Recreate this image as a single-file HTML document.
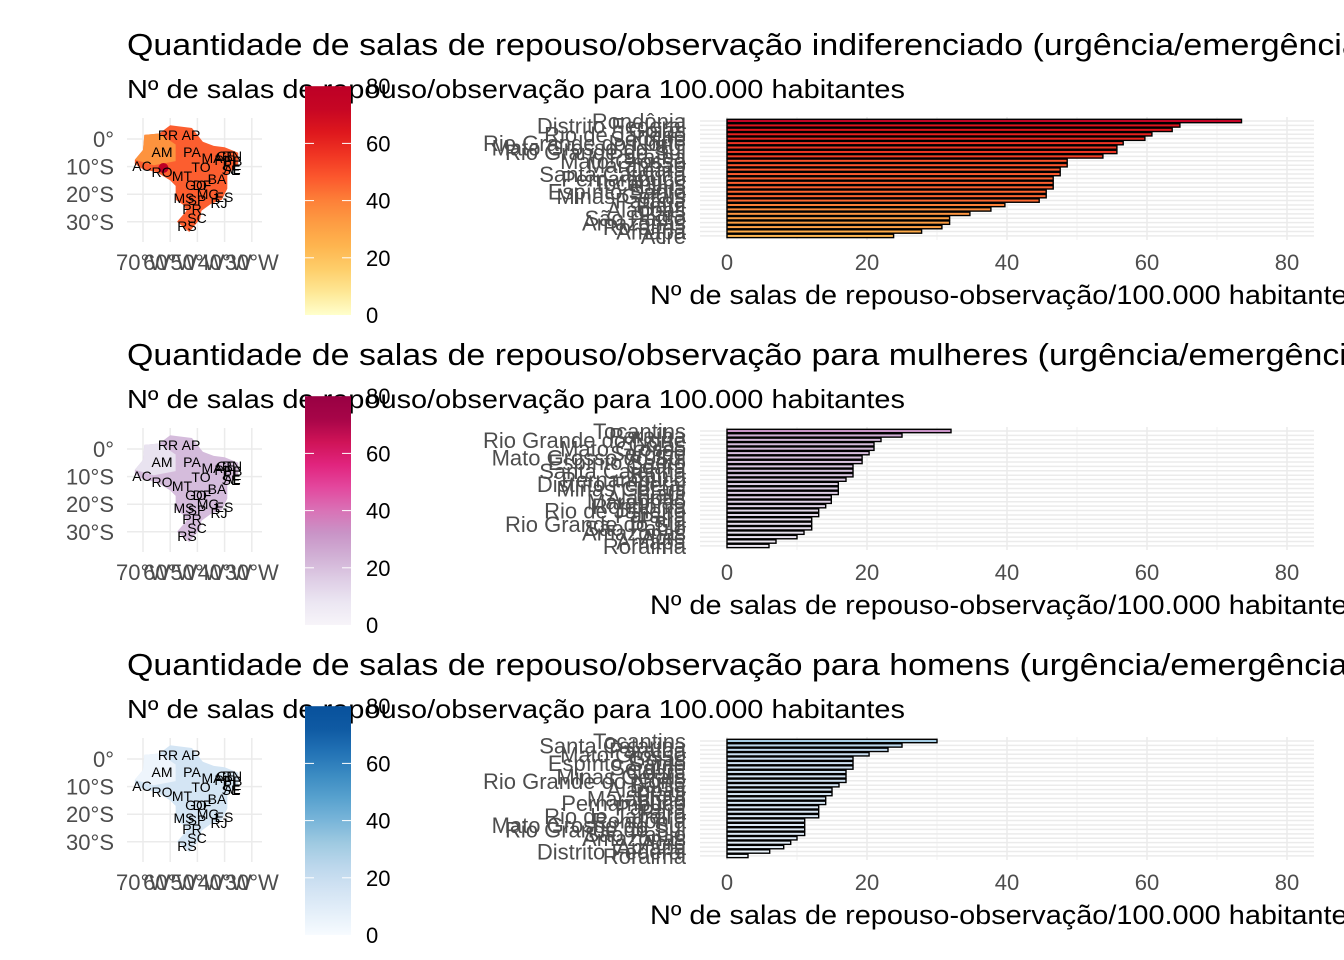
<!DOCTYPE html>
<html><head><meta charset="utf-8"><style>
body{margin:0;background:#fff;}
svg{display:block;font-family:"Liberation Sans",sans-serif;}
</style></head><body>
<svg id="c" width="1344" height="960" viewBox="0 0 1344 960" xmlns="http://www.w3.org/2000/svg"></svg>
<script>
const titles=["Quantidade de salas de repouso/observação indiferenciado (urgência/emergência)","Quantidade de salas de repouso/observação para mulheres (urgência/emergência)","Quantidade de salas de repouso/observação para homens (urgência/emergência)"];
const subtitle="Nº de salas de repouso/observação para 100.000 habitantes";
const xTitle="Nº de salas de repouso-observação/100.000 habitantes";
const xTicks=[0,20,40,60,80];
const legendTicks=[0,20,40,60,80];
const states1=["Rondônia","Distrito Federal","Goiás","Rio de Janeiro","Sergipe","Rio Grande do Norte","Mato Grosso do Sul","Rio Grande do Sul","Paraíba","Mato Grosso","Maranhão","Ceará","Santa Catarina","Pernambuco","Tocantins","Bahia","Espírito Santo","Minas Gerais","Paraná","Piauí","Alagoas","Pará","São Paulo","Amazonas","Roraima","Amapá","Acre"];
const vals1=[73.5,64.7,63.6,60.7,59.7,56.6,55.7,55.7,53.7,48.6,48.6,47.6,47.6,46.6,46.6,46.6,45.6,45.6,44.6,39.7,37.7,34.7,31.8,31.8,30.7,27.8,23.8];
const states2=["Tocantins","Paraíba","Rio Grande do Norte","Goiás","Mato Grosso","Sergipe","Mato Grosso do Sul","Espírito Santo","Ceará","Santa Catarina","Bahia","Pernambuco","Distrito Federal","Minas Gerais","Piauí","Alagoas","Maranhão","Rondônia","Rio de Janeiro","Paraná","Pará","Rio Grande do Sul","São Paulo","Amazonas","Acre","Amapá","Roraima"];
const vals2=[32,25,22,21,21,20.3,19.3,19.3,18,18,18,17,15.9,15.9,15.9,14.9,14.9,14.1,13.1,13.1,12.1,12.1,12.1,11,10,7,6];
const states3=["Tocantins","Santa Catarina","Paraíba","Mato Grosso","Goiás","Espírito Santo","Sergipe","Ceará","Minas Gerais","Rio Grande do Norte","Bahia","Alagoas","Piauí","Maranhão","Pernambuco","Paraná","Pará","Rio de Janeiro","Rondônia","Mato Grosso do Sul","Rio Grande do Sul","São Paulo","Amazonas","Acre","Amapá","Distrito Federal","Roraima"];
const vals3=[30,25,23,20.3,18,18,18,17,17,17,16,15,15,14.1,14.1,13.1,13.1,13.1,11.1,11.1,11.1,11.1,10,9.1,8.1,6.1,3];
const palettes=[["#FFFFCC","#FED976","#FEB24C","#FD8D3C","#FC4E2A","#E31A1C","#BD0026"],["#F7F4F9","#E7E1EF","#D4B9DA","#C994C7","#DF65B0","#E7298A","#CE1256","#980043"],["#F7FBFF","#DEEBF7","#C6DBEF","#9ECAE1","#6BAED6","#4292C6","#2171B5","#08519C"]];
const datasets=[[states1,vals1],[states2,vals2],[states3,vals3]];
const S=document.getElementById('c');const NS="http://www.w3.org/2000/svg";
function mk(t,a,p){const e=document.createElementNS(NS,t);for(const k in a)e.setAttribute(k,a[k]);(p||S).appendChild(e);return e;}
function hex(h){return [1,3,5].map(i=>parseInt(h.substr(i,2),16));}
function col(pal,t){t=Math.max(0,Math.min(1,t));const n=pal.length-1,i=Math.min(n-1,Math.floor(t*n)),f=t*n-i;const a=hex(pal[i]),b=hex(pal[i+1]);return "rgb("+a.map((v,k)=>Math.round(v+(b[k]-v)*f)).join(",")+")";}
const xs=v=>727+v*7;
const lon=l=>143+(l+70)*2.72, lat=l=>139-l*2.76;
const brazil=[[-73,-7.5],[-70,-4],[-69.5,1.5],[-64,2],[-60,5],[-52,4],[-50,1.5],[-48,-1],[-44,-2.5],[-40,-3],[-35,-5],[-35,-9],[-39,-13],[-39,-18],[-41,-22],[-45,-23.5],[-48.5,-26],[-49,-29],[-53,-33.7],[-57.5,-30],[-54,-26],[-55,-24],[-58,-22],[-58,-17],[-60,-15],[-65,-12],[-70,-11],[-73,-9]];
const uf=[["RR",168,136],["AP",191,136],["AM",162,153],["PA",192,153],["MA",212,159],["CE",226,157],["RN",232,157],["PB",233,162],["PE",232,166],["AL",232,170],["SE",231,171],["PI",221,161],["AC",142,167],["RO",162,173],["TO",201,168],["MT",182,177],["BA",217,180],["GO",196,186],["DF",202,186],["MG",208,195],["ES",224,198],["MS",184,199],["SP",197,201],["RJ",219,204],["PR",192,210],["SC",197,219],["RS",187,227]];
datasets.forEach((ds,p)=>{
 const dy=p*310,pal=palettes[p],[names,vals]=ds;
 const g=mk('g',{});
 const tl=[1245,1250,1232][p];
 let t=mk('text',{x:127,y:dy+55,'font-size':31,fill:'#000',textLength:tl,lengthAdjust:'spacingAndGlyphs'},g);t.textContent=titles[p];
 t=mk('text',{x:127,y:dy+98,'font-size':26,fill:'#000',textLength:778,lengthAdjust:'spacingAndGlyphs'},g);t.textContent=subtitle;
 const mg=mk('g',{},g);
 [-70,-60,-50,-40,-30].forEach(l=>mk('line',{x1:lon(l),x2:lon(l),y1:dy+118,y2:dy+242,stroke:'#ebebeb','stroke-width':1.5},mg));
 [0,-10,-20,-30].forEach(l=>mk('line',{x1:127,x2:262,y1:dy+lat(l),y2:dy+lat(l),stroke:'#ebebeb','stroke-width':1.5},mg));
 const pts=brazil.map(q=>lon(q[0])+","+(dy+lat(q[1]))).join(" ");
 const mv=p==0?50:(p==1?22:16);
 const m=mk('polygon',{points:pts,fill:col(pal,mv/80)},mg);
 mk('polygon',{points:[[-70,-4],[-69.5,1.5],[-64,2],[-58,-2],[-58,-8],[-66,-9.5],[-73,-7.5]].map(q=>lon(q[0])+","+(dy+lat(q[1]))).join(" "),fill:col(pal,(mv-12)/80)},mg);
 if(p==0)mk('circle',{cx:lon(-62.5),cy:dy+lat(-10.5),r:5,fill:'#BD0026'},mg);
 uf.forEach(u=>{const e=mk('text',{x:u[1],y:dy+u[2]+4,'font-size':14,fill:'#000','text-anchor':'middle'},mg);e.textContent=u[0];});
 [["0°",0],["10°S",-10],["20°S",-20],["30°S",-30]].forEach(a=>{const e=mk('text',{x:114,y:dy+lat(a[1])+8,'font-size':22,fill:'#4d4d4d','text-anchor':'end'},mg);e.textContent=a[0];});
 [["70°W",-70],["60°W",-60],["50°W",-50],["40°W",-40],["30°W",-30]].forEach(a=>{const e=mk('text',{x:lon(a[1]),y:dy+270,'font-size':22,fill:'#4d4d4d','text-anchor':'middle'},mg);e.textContent=a[0];});
 const lg=mk('g',{},g);
 const gid='gr'+p;const gr=mk('linearGradient',{id:gid,x1:0,y1:1,x2:0,y2:0},mk('defs',{},lg));
 for(let i=0;i<=10;i++)mk('stop',{offset:i/10,'stop-color':col(pal,i/10*80/75)},gr);
 const ly=v=>dy+315-v*2.86;
 mk('rect',{x:305,y:ly(80),width:46,height:ly(0)-ly(80),fill:'url(#'+gid+')'},lg);
 legendTicks.forEach(v=>{if(v>0&&v<80){mk('line',{x1:305,x2:314,y1:ly(v),y2:ly(v),stroke:'#fff'},lg);mk('line',{x1:342,x2:351,y1:ly(v),y2:ly(v),stroke:'#fff'},lg);}
  const e=mk('text',{x:366,y:ly(v)+8,'font-size':22,fill:'#000'},lg);e.textContent=v;});
 const bg=mk('g',{},g);
 const n=vals.length,step=4.42,y0=dy+121;
 for(let v=10;v<=70;v+=20)mk('line',{x1:xs(v),x2:xs(v),y1:dy+117,y2:dy+240,stroke:'#f2f2f2','stroke-width':1},bg);
 xTicks.forEach(v=>mk('line',{x1:xs(v),x2:xs(v),y1:dy+117,y2:dy+240,stroke:'#ebebeb','stroke-width':1.5},bg));
 for(let i=0;i<n;i++)mk('line',{x1:700,x2:1314,y1:y0+i*step,y2:y0+i*step,stroke:'#ebebeb','stroke-width':1.5},bg);
 vals.forEach((v,i)=>{const r=mk('rect',{x:xs(0),y:y0+i*step-1.7,width:xs(v)-xs(0),height:3.4,fill:col(pal,v/75),stroke:'#000','stroke-width':1.4},bg);
  });
 names.forEach((s,i)=>{const e=mk('text',{x:686,y:y0+i*step+8,'font-size':22,fill:'#4d4d4d','text-anchor':'end'},bg);e.textContent=s;});
 xTicks.forEach(v=>{const e=mk('text',{x:xs(v),y:dy+270,'font-size':22,fill:'#4d4d4d','text-anchor':'middle'},bg);e.textContent=v;});
 t=mk('text',{x:650,y:dy+304,'font-size':27,fill:'#000',textLength:712,lengthAdjust:'spacingAndGlyphs'},bg);t.textContent=xTitle;
});
</script>
</body></html>
